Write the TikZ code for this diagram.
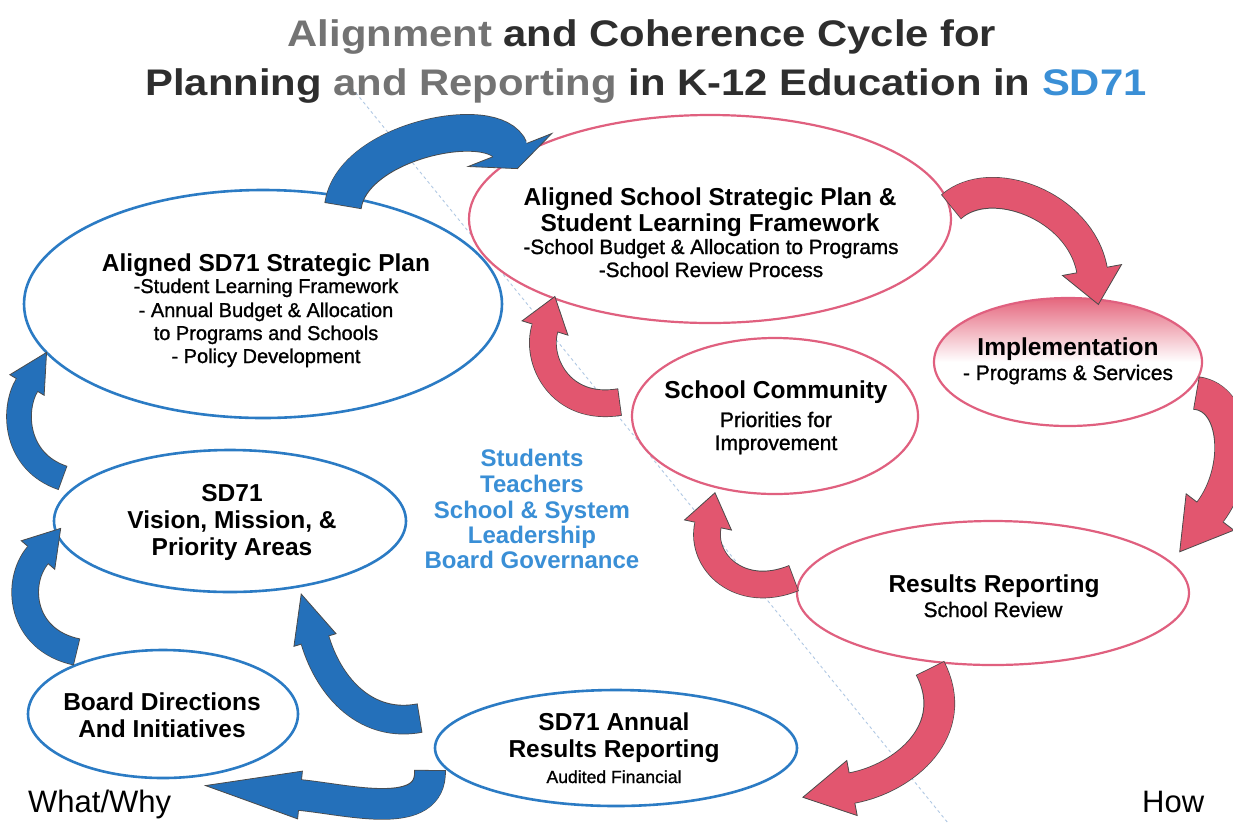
\documentclass[tikz,border=0pt]{standalone}
\usepackage{fontspec}
\setmainfont{Liberation Sans}
\newfontfamily\subfont[FakeBold=1.2]{Liberation Sans}
\usetikzlibrary{calc,shapes.geometric}
\definecolor{bluearrow}{RGB}{36,112,186}
\definecolor{blueline}{RGB}{43,123,196}
\definecolor{bluetext}{RGB}{58,143,214}
\definecolor{pinkline}{RGB}{224,96,127}
\definecolor{pinkfill}{RGB}{226,86,111}
\definecolor{arrowedge}{RGB}{74,74,74}
\definecolor{titledark}{RGB}{46,46,46}
\definecolor{titlegray}{RGB}{115,115,115}
\definecolor{dashblue}{RGB}{176,200,228}
\newcommand\fsz[1]{\fontsize{#1}{#1}\selectfont}
% curved block arrow: #1 colour, #2 tail, #3 c1, #4 c2, #5 head base, #6 width, #7 head length, #8 head half width, #9 name
\newcommand\carrow[9]{%
  \coordinate (#9C2) at (#4);
  \coordinate (#9B) at (#5);
  \coordinate (#9T) at ($(#9B)!-#7pt!(#9C2)$);
  \coordinate (#9L) at ($(#9B)!#8pt!90:(#9C2)$);
  \coordinate (#9R) at ($(#9B)!#8pt!-90:(#9C2)$);
  \coordinate (#9E) at ($(#9B)!-2pt!(#9C2)$);
  \pgfmathsetlengthmacro\carrowlw{#6+1.6}%
  \draw[draw=arrowedge, line width=\carrowlw] (#2) .. controls (#3) and (#9C2) .. (#9B);
  \filldraw[fill=#1, draw=arrowedge, line width=0.8pt, line join=miter] (#9L) -- (#9T) -- (#9R) -- cycle;
  \draw[draw=#1, line width=#6pt, shorten <=0.8pt] (#2) .. controls (#3) and (#9C2) .. (#9B) -- (#9E);
}
\tikzset{
  ell/.style={ellipse, fill=white, inner sep=0pt},
  blueell/.style={ell, draw=blueline, line width=2.6pt},
  pinkell/.style={ell, draw=pinkline, line width=2.2pt},
  hd/.style={font=\fsz{24.5}\bfseries, anchor=base, inner sep=0pt, text=black},
  sub/.style={font=\subfont\fsz{20.7}, anchor=base, inner sep=0pt, text=black},
  ctr/.style={font=\fsz{24}\bfseries, anchor=base, inner sep=0pt, text=bluetext},
  ttl/.style={font=\fsz{37}\bfseries, anchor=base, inner sep=0pt, text=titledark},
  side/.style={font=\fsz{31}, anchor=base west, inner sep=0pt, text=black},
  dashline/.style={draw=dashblue, line width=0.9pt, dash pattern=on 3pt off 3pt}
}
\begin{document}
\begin{tikzpicture}[x=1pt, y=-1pt]
\useasboundingbox (0,0) rectangle (1233,823);
\fill[white] (0,0) rectangle (1233,823);

% divider
\coordinate (dashA) at (352,88);
\coordinate (dashB) at (948,823);
\draw[dashline] (dashA) -- (dashB);

% title
\node[ttl] (title1) at (642,46) {\scalebox{1.13}[1]{\textcolor{titlegray}{Alignment} and Coherence Cycle for}};
\node[ttl] (title2) at (646,95) {\scalebox{1.13}[1]{Planning \textcolor{titlegray}{and Reporting} in K-12 Education in \textcolor{bluetext}{SD71}}};

% ellipses
\node[blueell, minimum width=478, minimum height=228] (plan) at (263,304) {};
\node[blueell, minimum width=352, minimum height=142] (vision) at (230,521) {};
\node[blueell, minimum width=270, minimum height=128] (board) at (163,714) {};
\node[blueell, minimum width=362, minimum height=116] (annual) at (616,748) {};
\node[pinkell, minimum width=482, minimum height=208] (splan) at (710,219) {};
\node[pinkell, minimum width=268, minimum height=128, top color=pinkfill!90, bottom color=white, middle color=white] (impl) at (1068,362) {};
\node[pinkell, minimum width=286, minimum height=156] (sc) at (775,416) {};
\node[pinkell, minimum width=392, minimum height=144] (rr) at (993,593) {};

% arrows
\carrow{bluearrow}{343,206}{352,140}{495,112}{510,150}{36}{20}{45}{aA}
\carrow{pinkfill}{951,207}{990,172}{1080,205}{1092,270}{30}{35}{30}{aB}
\carrow{pinkfill}{1196,393}{1238,398}{1242,470}{1210,512}{32}{50}{30}{aC}
\carrow{pinkfill}{930,668}{962,730}{905,778}{852,788}{30}{50}{28}{aD}
\carrow{pinkfill}{620,402}{560,412}{535,360}{545,328}{26}{33}{24}{aE}
\carrow{pinkfill}{794,578}{740,600}{700,562}{708,525}{26}{33}{24}{aF}
\carrow{bluearrow}{420,718}{368,728}{330,690}{315,640}{28}{48}{22}{aG}
\carrow{bluearrow}{430,770}{432,822}{350,800}{300,795}{30}{95}{24}{aH}
\carrow{bluearrow}{77,652}{20,640}{15,582}{38,555}{26}{35}{22}{aI}
\carrow{bluearrow}{63,478}{15,462}{12,410}{27,385}{24}{38}{20}{aJ}

% texts: SD71 plan
\node[hd] (planH) at (266,271) {Aligned SD71 Strategic Plan};
\node[sub, font=\subfont\fsz{20}] (planS1) at (266,293) {-Student Learning Framework};
\node[sub, font=\subfont\fsz{20}] (planS2) at (266,317) {- Annual Budget \& Allocation};
\node[sub, font=\subfont\fsz{20}] (planS3) at (266,340) {to Programs and Schools};
\node[sub, font=\subfont\fsz{20}] (planS4) at (266,363) {- Policy Development};
% school plan
\node[hd] (splanH1) at (710,205) {Aligned School Strategic Plan \&};
\node[hd] (splanH2) at (710,231) {Student Learning Framework};
\node[sub] (splanS1) at (711,254) {-School Budget \& Allocation to Programs};
\node[sub] (splanS2) at (711,277) {-School Review Process};
% implementation
\node[hd] (implH) at (1068,355) {Implementation};
\node[sub, font=\subfont\fsz{21}] (implS) at (1068,380) {- Programs \& Services};
% school community
\node[hd] (scH) at (776,398) {School Community};
\node[sub, font=\subfont\fsz{21}] (scS1) at (776,427) {Priorities for};
\node[sub, font=\subfont\fsz{21}] (scS2) at (776,450) {Improvement};
% results reporting
\node[hd] (rrH) at (994,592) {Results Reporting};
\node[sub, font=\subfont\fsz{21}] (rrS) at (993,617) {School Review};
% annual
\node[hd] (annH1) at (614,730) {SD71 Annual};
\node[hd] (annH2) at (614,757) {Results Reporting};
\node[sub, font=\subfont\fsz{17.6}] (annS) at (614,783) {Audited Financial};
% board
\node[hd] (boardH1) at (162,710) {Board Directions};
\node[hd] (boardH2) at (162,737) {And Initiatives};
% vision
\node[hd] (visH1) at (232,501) {SD71};
\node[hd] (visH2) at (232,528) {Vision, Mission, \&};
\node[hd] (visH3) at (232,555) {Priority Areas};
% centre
\node[ctr] (c1) at (532,466) {Students};
\node[ctr] (c2) at (532,492) {Teachers};
\node[ctr] (c3) at (532,518) {School \& System};
\node[ctr] (c4) at (532,543) {Leadership};
\node[ctr] (c5) at (532,568) {Board Governance};
% corners
\node[side] (what) at (28,812) {What/Why};
\node[side] (how) at (1142,812) {How};
\end{tikzpicture}
\end{document}
